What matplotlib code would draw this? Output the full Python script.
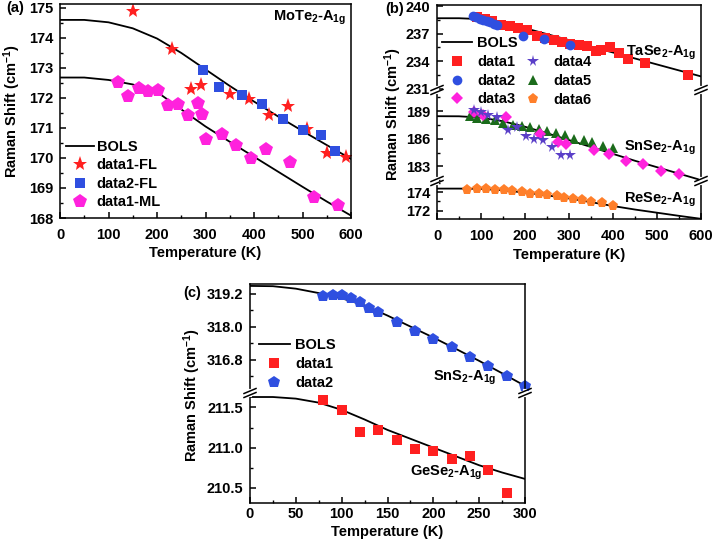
import matplotlib
matplotlib.use('Agg')
import matplotlib.pyplot as plt
from matplotlib.lines import Line2D
from matplotlib.ticker import MultipleLocator, FormatStrFormatter

plt.rcParams['font.family'] = ['Liberation Sans', 'DejaVu Sans']
plt.rcParams['font.weight'] = 'bold'
plt.rcParams['font.size'] = 10.5
plt.rcParams['mathtext.fontset'] = 'custom'
plt.rcParams['mathtext.rm'] = 'Liberation Sans:bold'
plt.rcParams['mathtext.bf'] = 'Liberation Sans:bold'
plt.rcParams['mathtext.it'] = 'Liberation Sans:bold'
plt.rcParams['mathtext.default'] = 'bf'
plt.rcParams['axes.linewidth'] = 1.1

# ---- (a) MoTe2 ----
a_T = [0, 50, 100, 150, 200, 250, 300, 350, 400, 450, 500, 550, 600]
a_bols_fl = [174.6, 174.6, 174.52, 174.32, 173.98, 173.5, 172.95, 172.4, 171.88, 171.38, 170.9, 170.43, 169.97]
a_bols_ml = [172.68, 172.68, 172.6, 172.45, 172.2, 171.62, 171.05, 170.54, 170.04, 169.54, 169.04, 168.55, 168.08]
a_fl1_T = [150, 230, 270, 290, 350, 390, 430, 470, 510, 550, 590]
a_fl1 = [174.9, 173.62, 172.3, 172.43, 172.14, 171.98, 171.44, 171.74, 170.97, 170.18, 170.03]
a_fl2_T = [294, 327, 375, 416, 459, 500, 539, 567]
a_fl2 = [172.93, 172.38, 172.1, 171.8, 171.3, 170.93, 170.77, 170.24]
a_ml_T = [120, 141, 162, 182, 203, 222, 243, 263, 285, 292, 302, 335, 363, 393, 424, 474, 524, 574]
a_ml = [172.52, 172.08, 172.32, 172.24, 172.27, 171.77, 171.8, 171.43, 171.82, 171.46,
        170.63, 170.79, 170.43, 170.01, 170.3, 169.88, 168.69, 168.43]

# ---- (b) TaSe2 / SnSe2 / ReSe2 ----
b_T = [0, 50, 100, 150, 200, 250, 300, 350, 400, 450, 500, 550, 600]
b_bols_ta = [238.68, 238.68, 238.58, 238.2, 237.6, 236.95, 236.3, 235.6, 234.95, 234.3, 233.65, 233.0, 232.35]
b_bols_sn = [188.45, 188.44, 188.3, 187.9, 187.3, 186.6, 185.85, 185.1, 184.35, 183.6, 182.9, 182.2, 181.5]
b_bols_re = [174.38, 174.38, 174.35, 174.2, 173.95, 173.65, 173.32, 172.92, 172.5, 172.12, 171.78, 171.44, 171.12]
b_d1_T = [90, 109, 125, 145, 165, 185, 205, 227, 246, 265, 285, 303, 323, 342, 361, 372, 394, 413, 435, 473, 570]
b_d1 = [238.79, 238.6, 238.35, 237.96, 237.86, 237.61, 237.36, 236.78, 236.53, 236.36, 236.07,
        235.89, 235.82, 235.64, 235.1, 235.18, 235.53, 234.86, 234.29, 233.86, 232.53]
b_d2_T = [81, 89, 97, 105, 113, 121, 129, 137, 196, 244, 303]
b_d2 = [238.9, 238.8, 238.65, 238.5, 238.35, 238.22, 238.08, 237.92, 236.8, 236.45, 235.75]
b_d3_T = [85, 105, 157, 234, 274, 293, 356, 391, 429, 469, 509, 549]
b_d3 = [188.9, 188.55, 188.36, 186.55, 185.64, 185.39, 184.8, 184.35, 183.6, 183.3, 182.5, 182.2]
b_d4_T = [83, 100, 117, 136, 162, 181, 203, 220, 241, 261, 281, 302]
b_d4 = [189.1, 188.9, 188.6, 188.35, 187.0, 187.27, 186.35, 186.0, 185.83, 185.1, 184.2, 184.2]
b_d5_T = [74, 92, 112, 132, 149, 172, 193, 212, 232, 251, 271, 291, 312, 333, 353, 377, 400]
b_d5 = [188.43, 188.25, 188.1, 188.0, 187.74, 187.53, 187.38, 187.27, 187.02, 186.84, 186.62,
        186.37, 186.0, 185.83, 185.68, 185.2, 185.03]
b_d6_T = [69, 92, 112, 132, 152, 171, 193, 212, 231, 251, 272, 289, 309, 329, 350, 376, 401]
b_d6 = [174.28, 174.36, 174.36, 174.25, 174.18, 174.1, 174.0, 173.83, 173.76, 173.65, 173.55,
        173.41, 173.26, 173.13, 172.95, 172.78, 172.5]

# ---- (c) SnS2 / GeSe2 ----
c_T = [0, 25, 50, 75, 100, 125, 150, 175, 200, 225, 250, 275, 300]
c_bols_sn = [319.48, 319.47, 319.38, 319.22, 319.03, 318.77, 318.4, 318.0, 317.6, 317.18, 316.75, 316.3, 315.84]
c_bols_ge = [211.63, 211.63, 211.61, 211.56, 211.47, 211.35, 211.22, 211.11, 211.0, 210.89, 210.78, 210.69, 210.61]
c_d1_T = [80, 100, 120, 140, 160, 180, 200, 220, 240, 260, 280]
c_d1 = [211.59, 211.47, 211.19, 211.22, 211.1, 210.98, 210.96, 210.86, 210.89, 210.72, 210.43]
c_d2_T = [80, 90, 100, 110, 120, 130, 140, 160, 180, 200, 220, 240, 260, 280, 300]
c_d2 = [319.12, 319.15, 319.15, 319.03, 318.91, 318.67, 318.52, 318.18, 317.83, 317.56, 317.26,
        316.9, 316.56, 316.2, 315.84]

RED = '#ff2020'
BLUE = '#2f4fe0'
MAG = '#ff22dd'
PURP = '#5a3fc8'
GREEN = '#1b6b1b'
ORANGE = '#ff7f2a'

W, H = 714, 547
fig = plt.figure(figsize=(W / 100, H / 100), dpi=100)


def add_ax(left, top, right, bottom):
    # pixel box -> figure fraction
    return fig.add_axes([left / W, 1 - bottom / H, (right - left) / W, (bottom - top) / H])


def style(ax, xlab=True, xpad=7.5):
    ax.tick_params(which='both', direction='in', top=False, right=False, labelsize=10.5)
    ax.tick_params(which='major', length=4, width=1.1, pad=5)
    ax.tick_params(which='minor', length=2.5, width=1.0)
    ax.tick_params(axis='x', which='major', pad=xpad)
    if not xlab:
        ax.tick_params(axis='x', which='both', bottom=False, labelbottom=False)


def ftext(x, y, s, **kw):
    fig.text(x / W, 1 - y / H, s, **kw)


def brk(ypx, left, right):
    # double slash on both spines, spine gap in between
    for x in (left, right):
        fig.add_artist(Line2D([x / W, x / W], [1 - (ypx - 2) / H, 1 - (ypx + 2) / H],
                              color='white', lw=3, transform=fig.transFigure))
        for s in (-2, 2):
            fig.add_artist(Line2D([(x - 6) / W, (x + 6) / W],
                                  [1 - (ypx + s + 2.5) / H, 1 - (ypx + s - 2.5) / H],
                                  color='k', lw=1.1, transform=fig.transFigure))


def leg(handles, x, y, hl, htp, ls=0.33):
    fig.legend(handles=handles, loc='upper left', bbox_to_anchor=(x / W, 1 - y / H),
               bbox_transform=fig.transFigure, frameon=False, borderpad=0,
               handlelength=hl, handletextpad=htp, labelspacing=ls, borderaxespad=0,
               prop={'weight': 'bold', 'size': 10.5})


# ---------- panel (a) ----------
ax = add_ax(60, 4, 351, 218)
style(ax)
ax.plot(a_T, a_bols_fl, color='k', lw=1.3)
ax.plot(a_T, a_bols_ml, color='k', lw=1.3)
ax.plot(a_fl1_T, a_fl1, '*', color=RED, ms=11, mew=0)
ax.plot(a_fl2_T, a_fl2, 's', color=BLUE, ms=7, mew=0)
ax.plot(a_ml_T, a_ml, 'p', color=MAG, ms=10, mew=0)
ax.set_xlim(0, 600)
ax.set_ylim(168, 175.13)
ax.xaxis.set_major_locator(MultipleLocator(100))
ax.xaxis.set_minor_locator(MultipleLocator(50))
ax.yaxis.set_major_locator(MultipleLocator(1))
ax.yaxis.set_minor_locator(MultipleLocator(0.5))
ax.text(0.983, 0.935, 'MoTe$_2$-A$_{1g}$', transform=ax.transAxes, ha='right', va='center')
leg([Line2D([], [], color='k', lw=1.3, label='BOLS'),
     Line2D([], [], ls='', marker='*', color=RED, ms=11, mew=0, label='data1-FL'),
     Line2D([], [], ls='', marker='s', color=BLUE, ms=7, mew=0, label='data2-FL'),
     Line2D([], [], ls='', marker='p', color=MAG, ms=10, mew=0, label='data1-ML')],
    66, 140, 1.9, 0.2, ls=0.3)
ftext(15, 8, '(a)', ha='center', va='center')
ftext(12, 111, 'Raman Shift (cm$^{-1}$)', rotation=90, ha='center', va='center')
ftext(205, 253, 'Temperature (K)', ha='center', va='center')

# ---------- panel (b) ----------
bl, br = 437, 701
b1 = add_ax(bl, 5, br, 90)
b2 = add_ax(bl, 90, br, 181)
b3 = add_ax(bl, 181, br, 219)
for a in (b1, b2, b3):
    style(a, xlab=(a is b3))
    a.set_xlim(0, 600)
    a.xaxis.set_major_locator(MultipleLocator(100))
    a.xaxis.set_minor_locator(MultipleLocator(50))
b1.spines['bottom'].set_visible(False)
b2.spines['top'].set_visible(False)
b2.spines['bottom'].set_visible(False)
b3.spines['top'].set_visible(False)

b1.plot(b_T, b_bols_ta, color='k', lw=1.3)
b1.plot(b_d1_T, b_d1, 's', color=RED, ms=6.5, mew=0)
b1.plot(b_d2_T, b_d2, 'o', color=BLUE, ms=7, mew=0)
b1.set_ylim(230.87, 240.12)
b1.yaxis.set_major_locator(MultipleLocator(3))
b1.yaxis.set_minor_locator(MultipleLocator(1.5))
b1.text(0.98, 0.435, 'TaSe$_2$-A$_{1g}$', transform=b1.transAxes, ha='right', va='center')

b2.plot(b_T, b_bols_sn, color='k', lw=1.3)
b2.plot(b_d5_T, b_d5, '^', color=GREEN, ms=7, mew=0)
b2.plot(b_d3_T, b_d3, 'D', color=MAG, ms=6, mew=0)
b2.plot(b_d4_T, b_d4, '*', color=PURP, ms=8.5, mew=0)
b2.set_ylim(181.4, 191.3)
b2.yaxis.set_major_locator(MultipleLocator(3))
b2.yaxis.set_minor_locator(MultipleLocator(1.5))
b2.text(0.98, 0.363, 'SnSe$_2$-A$_{1g}$', transform=b2.transAxes, ha='right', va='center')

b3.plot(b_T, b_bols_re, color='k', lw=1.3)
b3.plot(b_d6_T, b_d6, 'p', color=ORANGE, ms=8, mew=0)
b3.set_ylim(171.1, 175.2)
b3.yaxis.set_major_locator(MultipleLocator(2))
b3.yaxis.set_minor_locator(MultipleLocator(1))
b3.text(0.98, 0.5, 'ReSe$_2$-A$_{1g}$', transform=b3.transAxes, ha='right', va='center')

brk(90, bl, br)
brk(181, bl, br)
leg([Line2D([], [], color='k', lw=1.3, label='BOLS'),
     Line2D([], [], ls='', marker='s', color=RED, ms=6.5, mew=0, label='data1'),
     Line2D([], [], ls='', marker='o', color=BLUE, ms=7, mew=0, label='data2'),
     Line2D([], [], ls='', marker='D', color=MAG, ms=6, mew=0, label='data3')],
    442, 36, 2.05, 0.35)
leg([Line2D([], [], ls='', marker='*', color=PURP, ms=8.5, mew=0, label='data4'),
     Line2D([], [], ls='', marker='^', color=GREEN, ms=7, mew=0, label='data5'),
     Line2D([], [], ls='', marker='p', color=ORANGE, ms=8, mew=0, label='data6')],
    518, 55, 2.05, 0.35)
ftext(395, 9, '(b)', ha='center', va='center')
ftext(393, 114, 'Raman Shift (cm$^{-1}$)', rotation=90, ha='center', va='center')
ftext(569, 255, 'Temperature (K)', ha='center', va='center')

# ---------- panel (c) ----------
cl, cr = 250, 525
c1 = add_ax(cl, 284, cr, 393)
c2 = add_ax(cl, 393, cr, 503)
for a in (c1, c2):
    style(a, xlab=(a is c2), xpad=3)
    a.set_xlim(0, 300)
    a.xaxis.set_major_locator(MultipleLocator(50))
    a.xaxis.set_minor_locator(MultipleLocator(25))
    a.yaxis.set_major_formatter(FormatStrFormatter('%.1f'))
c1.spines['bottom'].set_visible(False)
c2.spines['top'].set_visible(False)

c1.plot(c_T, c_bols_sn, color='k', lw=1.3)
c1.plot(c_d2_T, c_d2, 'p', color=BLUE, ms=9, mew=0, clip_on=False)
c1.set_ylim(315.58, 319.55)
c1.set_yticks([316.8, 318.0, 319.2])
c1.set_yticks([316.2, 317.4, 318.6], minor=True)
c1.text(0.898, 0.138, 'SnS$_2$-A$_{1g}$', transform=c1.transAxes, ha='right', va='center')

c2.plot(c_T, c_bols_ge, color='k', lw=1.3)
c2.plot(c_d1_T, c_d1, 's', color=RED, ms=7.5, mew=0)
c2.set_ylim(210.31, 211.68)
c2.yaxis.set_major_locator(MultipleLocator(0.5))
c2.yaxis.set_minor_locator(MultipleLocator(0.25))
c2.text(0.844, 0.273, 'GeSe$_2$-A$_{1g}$', transform=c2.transAxes, ha='right', va='center')

brk(393, cl, cr)
leg([Line2D([], [], color='k', lw=1.3, label='BOLS'),
     Line2D([], [], ls='', marker='s', color=RED, ms=7.5, mew=0, label='data1'),
     Line2D([], [], ls='', marker='p', color=BLUE, ms=9, mew=0, label='data2')],
    259, 338, 2.1, 0.4, ls=0.35)
ftext(192.5, 293, '(c)', ha='center', va='center')
ftext(192, 395, 'Raman Shift (cm$^{-1}$)', rotation=90, ha='center', va='center')
ftext(387.5, 532, 'Temperature (K)', ha='center', va='center')

fig.savefig('out.png', dpi=100)
